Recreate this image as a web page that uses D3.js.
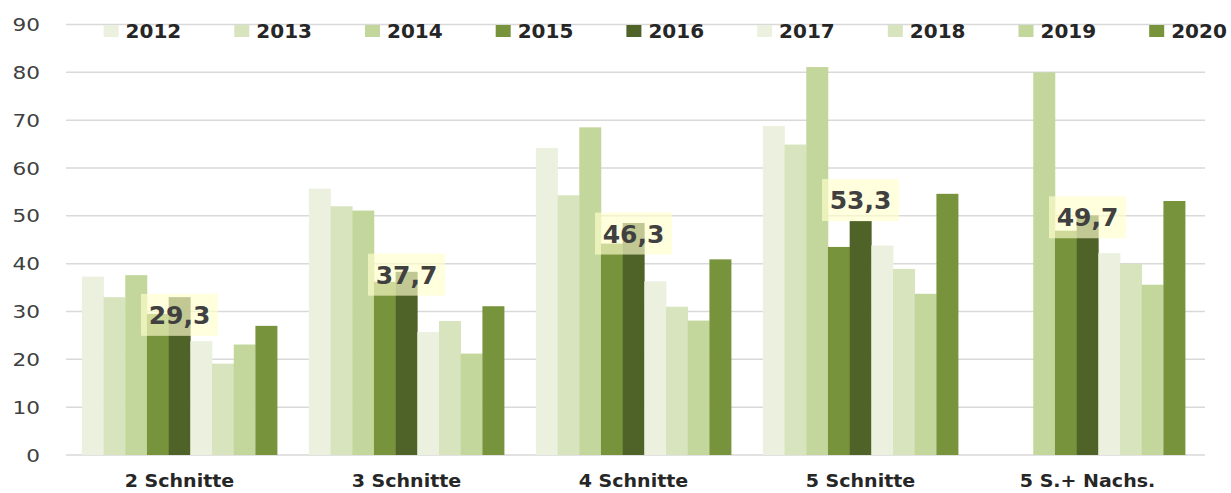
<html lang="de">
  <head>
    <meta charset="UTF-8" />
    <title>Schnitte</title>
    <style>
      * {
        box-sizing: border-box;
        margin: 0;
        padding: 0;
      }
      body {
        background: #ffffff;
      }
    </style>
  </head>
  <body>
    <svg id="chart"></svg>

    <script src="https://d3js.org/d3.v7.min.js"></script>
    <script>
      // les données
      const categories = ["2 Schnitte", "3 Schnitte", "4 Schnitte", "5 Schnitte", "5 S.+ Nachs."];
      const annees = ["2012", "2013", "2014", "2015", "2016", "2017", "2018", "2019", "2020"];
      const v2012 = [37.3, 55.7, 64.2, 68.8, null];
      const v2013 = [33.0, 52.0, 54.3, 64.9, null];
      const v2014 = [37.6, 51.1, 68.5, 81.1, 80.0];
      const v2015 = [29.5, 36.2, 44.2, 43.5, 46.9];
      const v2016 = [33.0, 38.3, 48.5, 48.9, 50.1];
      const v2017 = [23.8, 25.7, 36.3, 43.8, 42.2];
      const v2018 = [19.1, 28.0, 31.0, 38.9, 40.0];
      const v2019 = [23.1, 21.2, 28.1, 33.7, 35.6];
      const v2020 = [27.0, 31.1, 40.9, 54.6, 53.1];
      const moyennes = [29.3, 37.7, 46.3, 53.3, 49.7];
      const yTicks = [0, 10, 20, 30, 40, 50, 60, 70, 80, 90];

      const series = [v2012, v2013, v2014, v2015, v2016, v2017, v2018, v2019, v2020];
      const couleurs = ["#ebf1de", "#d7e4bd", "#c3d69b", "#77933c", "#4f6228",
                        "#ebf1de", "#d7e4bd", "#c3d69b", "#77933c"];

      const width = 1231;
      const height = 493;

      const svg = d3.select("#chart").attr("width", width).attr("height", height);

      // texte un peu étiré en largeur comme sur l'original
      function texte(g, x, y, str, sx) {
        return g.append("text")
          .attr("transform", `translate(${x},${y}) scale(${sx},1)`)
          .text(str);
      }

      const x0 = d3.scaleBand()
        .domain(categories)
        .range([66, 1201])
        .paddingInner(0.14)
        .paddingOuter(0.07);

      const x1 = d3.scaleBand()
        .domain(annees)
        .range([0, x0.bandwidth()]);

      const y = d3.scaleLinear().domain([0, 90]).range([455, 24.5]);

      // lignes de la grille
      svg.append("g")
        .selectAll("line")
        .data(yTicks)
        .enter()
        .append("line")
        .attr("x1", 66)
        .attr("x2", 1205)
        .attr("y1", (d) => y(d))
        .attr("y2", (d) => y(d))
        .style("stroke", "#d9d9d9")
        .style("stroke-width", 1.5);

      // étiquettes de l'axe y
      const gy = svg.append("g")
        .style("font-family", "'DejaVu Sans', sans-serif")
        .style("font-size", "18px")
        .style("fill", "#404040")
        .attr("text-anchor", "end");
      yTicks.forEach((t) => {
        texte(gy, 40, y(t) + 6.5, t, 1.2);
      });

      // les barres
      const donnees = [];
      categories.forEach((c, i) => {
        annees.forEach((a, j) => {
          if (series[j][i] !== null) {
            donnees.push({ cat: c, annee: a, valeur: series[j][i], couleur: couleurs[j] });
          }
        });
      });

      svg.append("g")
        .selectAll("rect")
        .data(donnees)
        .enter()
        .append("rect")
        .attr("x", (d) => x0(d.cat) + x1(d.annee))
        .attr("y", (d) => y(d.valeur))
        .attr("width", x1.bandwidth() + 0.3)
        .attr("height", (d) => y(0) - y(d.valeur))
        .style("fill", (d) => d.couleur);

      // étiquettes des moyennes
      const gm = svg.append("g");
      categories.forEach((c, i) => {
        const cx = x0(c) + x0.bandwidth() / 2;
        const cy = y(moyennes[i]);
        gm.append("rect")
          .attr("x", cx - 38.5)
          .attr("y", cy - 21)
          .attr("width", 77)
          .attr("height", 42)
          .style("fill", "#ffffcc")
          .style("opacity", 0.65);
        texte(gm, cx, cy + 9, d3.format(".1f")(moyennes[i]).replace(".", ","), 1.0)
          .attr("text-anchor", "middle")
          .style("font-family", "'DejaVu Sans', sans-serif")
          .style("font-weight", "bold")
          .style("font-size", "25px")
          .style("fill", "#404040");
      });

      // étiquettes de l'axe x
      const gx = svg.append("g")
        .style("font-family", "'DejaVu Sans', sans-serif")
        .style("font-weight", "bold")
        .style("font-size", "17px")
        .style("fill", "#262626")
        .attr("text-anchor", "middle");
      categories.forEach((c) => {
        texte(gx, x0(c) + x0.bandwidth() / 2, 487, c, 1.12);
      });

      // légende
      const gl = svg.append("g");
      annees.forEach((a, i) => {
        const lx = 103.6 + i * 130.7;
        gl.append("rect")
          .attr("x", lx)
          .attr("y", 25)
          .attr("width", 15)
          .attr("height", 12)
          .style("fill", couleurs[i]);
        texte(gl, lx + 22, 37.5, a, 1.0)
          .style("font-family", "'DejaVu Sans', sans-serif")
          .style("font-weight", "bold")
          .style("font-size", "20px")
          .style("fill", "#262626");
      });
    </script>
  </body>
</html>
